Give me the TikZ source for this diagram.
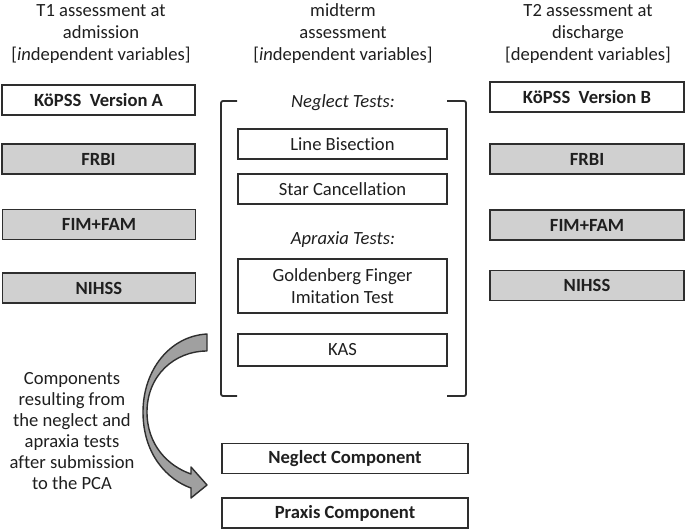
\documentclass[tikz,border=0pt]{standalone}
\usepackage{fontspec}
\setmainfont{Carlito}[Ligatures=NoCommon]
\definecolor{boxline}{HTML}{2E2E2E}
\definecolor{boxgray}{HTML}{D0D0D0}
\definecolor{arrowgray}{HTML}{A0A0A0}
\begin{document}
\begin{tikzpicture}[x=1pt,y=-1pt,
  every node/.style={font=\fontsize{18.6}{22}\selectfont, text=black!88},
  wbox/.style={draw=boxline, line width=1.4pt, fill=white, minimum height=30pt, inner sep=0pt},
  gbox/.style={wbox, fill=boxgray},
  colw/.style={minimum width=193pt},
  midw/.style={minimum width=209pt},
  compw/.style={minimum width=246pt},
  head/.style={align=center, anchor=base, inner sep=0pt},
  brk/.style={draw=boxline, line width=1.8pt, rounded corners=2pt}
]
\useasboundingbox (0,0) rectangle (685,529);

% headings (anchor = baseline of last line)
\node[head] (h1) at (101,61) {T1 assessment at\\admission\\{[}\textit{in}dependent variables{]}};
\node[head] (h2) at (343,61) {midterm\\assessment\\{[}\textit{in}dependent variables{]}};
\node[head] (h3) at (588,61) {T2 assessment at\\discharge\\{[}dependent variables{]}};

% left column
\node[wbox,colw] (a1) at (98.5,100) {\bfseries KöPSS\ \ Version A};
\node[gbox,colw] (a2) at (98.5,159) {\bfseries FRBI};
\node[gbox,colw] (a3) at (99,224.5) {\bfseries FIM+FAM};
\node[gbox,colw] (a4) at (99,288) {\bfseries NIHSS};

% right column
\node[wbox,minimum width=194pt] (b1) at (587,97) {\bfseries KöPSS\ \ Version B};
\node[gbox,minimum width=194pt] (b2) at (587,159) {\bfseries FRBI};
\node[gbox,minimum width=194pt] (b3) at (587,225) {\bfseries FIM+FAM};
\node[gbox,minimum width=194pt] (b4) at (587,285.5) {\bfseries NIHSS};

% brackets
\coordinate (lt) at (237,101); \coordinate (lb) at (237,396);
\coordinate (rt) at (447,101); \coordinate (rb) at (447,396);
\draw[brk] (lt) -- (221,101) -- (221,396) -- (lb);
\draw[brk] (rt) -- (466,101) -- (466,396) -- (rb);

% middle column
\node[head] (nt) at (343,108) {\itshape Neglect Tests:};
\node[wbox,midw] (m1) at (342.5,144) {Line Bisection};
\node[wbox,midw] (m2) at (342.5,189) {Star Cancellation};
\node[head] (at) at (343,245) {\itshape Apraxia Tests:};
\node[wbox,midw,minimum height=54pt,align=center] (m3) at (342.5,286) {Goldenberg Finger\\Imitation Test};
\node[wbox,midw,minimum height=32pt] (m4) at (342.5,350) {KAS};

% components
\node[wbox,compw] (c1) at (345,458.5) {\bfseries Neglect Component};
\node[wbox,compw] (c2) at (345,513) {\bfseries Praxis Component};

% side text (anchor = baseline of last line)
\node[head, font=\fontsize{18.6}{21}\selectfont] (st) at (72,489) {Components\\resulting from\\the neglect and\\apraxia tests\\after submission\\to the PCA};

% curved arrow
\coordinate (ca) at (207,334);
\coordinate (cb) at (207,351);
\coordinate (tip) at (207,485);
\draw[draw=boxline, line width=1.4pt, fill=arrowgray, line join=round]
  (ca) .. controls (170,336) and (143,370) .. (143,412)
  .. controls (143,455) and (168,480) .. (191,488)
  -- (191,498) -- (tip) -- (191,467) -- (191,474)
  .. controls (168,466) and (147,445) .. (147,412)
  .. controls (147,375) and (175,351) .. (cb) -- cycle;
\end{tikzpicture}
\end{document}
